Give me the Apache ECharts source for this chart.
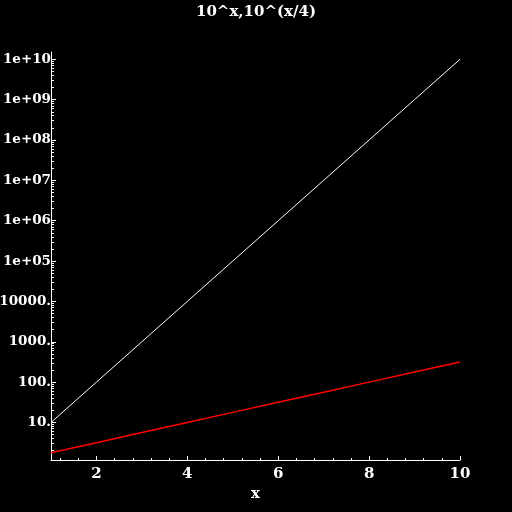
<!DOCTYPE html>
<html>
<head>
<meta charset="utf-8">
<script src="https://cdn.jsdelivr.net/npm/echarts@6/dist/echarts.min.js"></script>
<style>html,body{margin:0;padding:0;background:#000;}#c{width:512px;height:512px;}</style>
</head>
<body>
<div id="c"></div>
<script>
var titleText = "10^x,10^(x/4)";
var xValues = [1, 2, 3, 4, 5, 6, 7, 8, 9, 10];
var seriesA = [10, 100, 1000, 10000, 100000, 1000000, 10000000, 100000000, 1000000000, 10000000000];
var seriesB = [1.778, 3.162, 5.623, 10, 17.78, 31.62, 56.23, 100, 177.8, 316.2];
var xTickValues = [2, 4, 6, 8, 10];
var xMinorTicks = [1.2, 1.6, 2.4, 2.8, 3.2, 3.6, 4.4, 4.8, 5.2, 5.6, 6.4, 6.8, 7.2, 7.6, 8.4, 8.8, 9.2, 9.6];
var yTickValues = [10, 100, 1000, 10000, 1e5, 1e6, 1e7, 1e8, 1e9, 1e10];
var yTickLabels = ["10.", "100.", "1000.", "10000.", "1e+05", "1e+06", "1e+07", "1e+08", "1e+09", "1e+10"];
var yMin = 1.175, yMax = 1.514e10;

var yMinor = [];
for (var k = 0; k <= 9; k++) {
  for (var m = 2; m <= 9; m++) {
    var v = m * Math.pow(10, k);
    if (v > yMin && v < yMax) yMinor.push(v);
  }
}
function pairs(xs, ys) { return xs.map(function (x, i) { return [x, ys[i]]; }); }

var font = '"DejaVu Serif", serif';
var chart = echarts.init(document.getElementById('c'), null, {renderer: 'canvas'});
chart.setOption({
  backgroundColor: '#000',
  animation: false,
  title: {
    text: titleText, left: 'center', top: 0,
    textStyle: {color: '#fff', fontFamily: font, fontWeight: 'bold', fontSize: 15}
  },
  grid: {left: 51, right: 52, top: 52, bottom: 52, containLabel: false, outerBoundsMode: 'none'},
  xAxis: [{
    type: 'value', min: 1, max: 10, position: 'bottom',
    axisLine: {lineStyle: {color: '#fff', width: 1}},
    axisTick: {inside: true, length: 4, customValues: xTickValues, lineStyle: {color: '#fff'}},
    axisLabel: {customValues: xTickValues, color: '#fff', fontFamily: font, fontWeight: 'bold', fontSize: 15, margin: 7},
    splitLine: {show: false},
    name: 'x', nameLocation: 'middle', nameGap: 18,
    nameTextStyle: {color: '#fff', fontFamily: font, fontWeight: 'bold', fontSize: 15}
  }, {
    type: 'value', min: 1, max: 10, position: 'bottom',
    axisLine: {show: false},
    axisTick: {inside: true, length: 2, customValues: xMinorTicks, lineStyle: {color: '#fff'}},
    axisLabel: {show: false},
    splitLine: {show: false}
  }],
  yAxis: [{
    type: 'log', logBase: 10, min: yMin, max: yMax, position: 'left',
    axisLine: {lineStyle: {color: '#fff', width: 1}},
    axisTick: {inside: true, length: 5, customValues: yTickValues, lineStyle: {color: '#fff'}},
    axisLabel: {
      customValues: yTickValues, color: '#fff', fontFamily: font, fontWeight: 'bold', fontSize: 13.5, margin: 0,
      formatter: function (v) {
        for (var i = 0; i < yTickValues.length; i++) {
          if (Math.abs(Math.log10(v) - Math.log10(yTickValues[i])) < 1e-6) return yTickLabels[i];
        }
        return '';
      }
    },
    splitLine: {show: false}
  }, {
    type: 'log', logBase: 10, min: yMin, max: yMax, position: 'left',
    axisLine: {show: false},
    axisTick: {inside: true, length: 3, customValues: yMinor, lineStyle: {color: '#fff'}},
    axisLabel: {show: false},
    splitLine: {show: false}
  }],
  series: [{
    type: 'line', data: pairs(xValues, seriesA), xAxisIndex: 0, yAxisIndex: 0,
    symbol: 'none', lineStyle: {color: '#fff', width: 1}
  }, {
    type: 'line', data: pairs(xValues, seriesB), xAxisIndex: 0, yAxisIndex: 0,
    symbol: 'none', lineStyle: {color: '#ff0000', width: 1.5}
  }]
});
</script>
</body>
</html>
